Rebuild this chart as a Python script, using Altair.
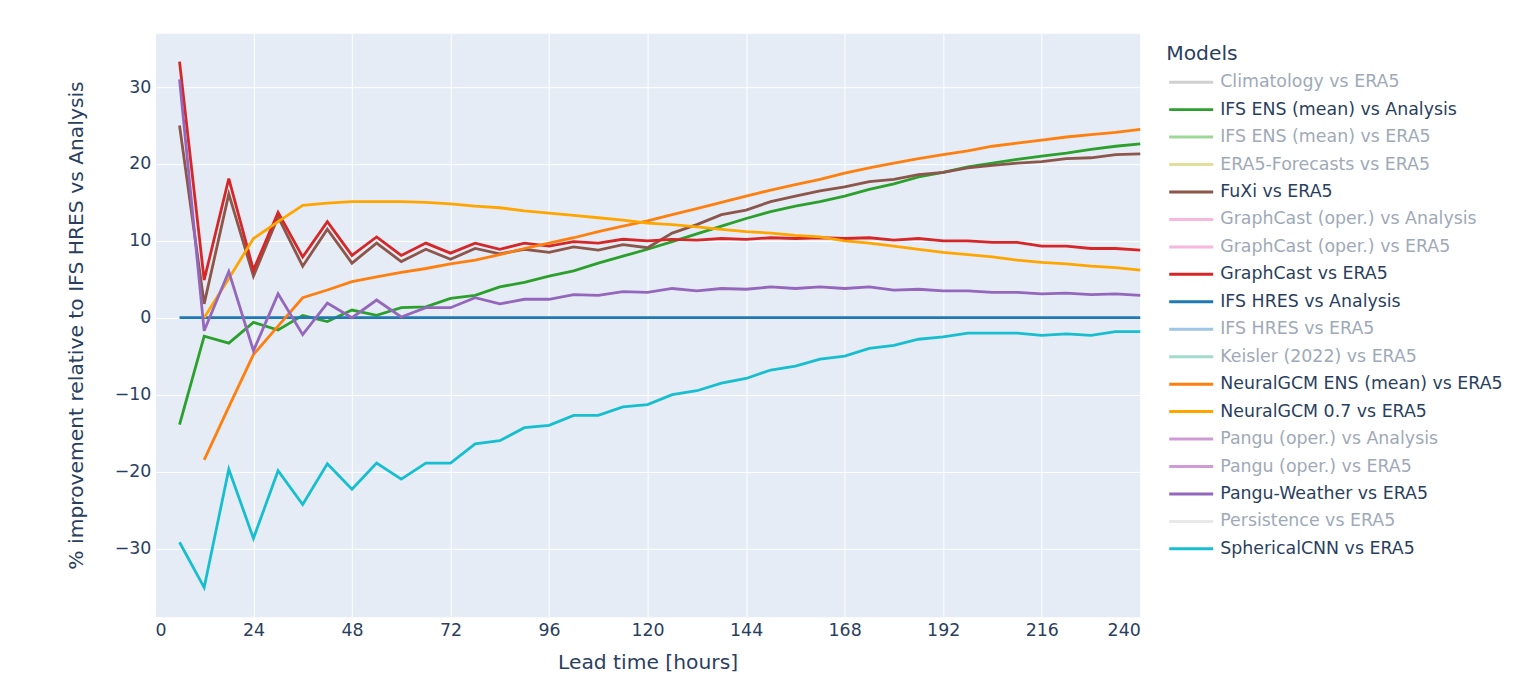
import altair as alt
import pandas as pd

hours = list(range(6, 241, 6))  # 6 .. 240

ifs_ens_analysis = [-13.9, -2.4, -3.3, -0.6, -1.6, 0.3, -0.5, 1.0, 0.3, 1.3,
                    1.4, 2.5, 2.9, 4.0, 4.6, 5.4, 6.1, 7.1, 8.0, 8.9,
                    9.9, 10.9, 11.9, 12.9, 13.8, 14.5, 15.1, 15.8, 16.7, 17.4,
                    18.3, 18.9, 19.6, 20.1, 20.6, 21.0, 21.4, 21.9, 22.3, 22.6]
fuxi = [25.0, 1.8, 16.1, 5.4, 13.1, 6.7, 11.5, 7.1, 9.7, 7.3,
        8.9, 7.6, 9.0, 8.3, 8.9, 8.5, 9.2, 8.8, 9.5, 9.1,
        11.0, 12.1, 13.4, 14.0, 15.1, 15.8, 16.5, 17.0, 17.7, 18.0,
        18.6, 18.9, 19.5, 19.8, 20.1, 20.3, 20.7, 20.8, 21.2, 21.3]
graphcast = [33.3, 4.9, 18.1, 6.2, 13.7, 7.9, 12.5, 8.1, 10.5, 8.1,
             9.7, 8.4, 9.7, 8.9, 9.7, 9.3, 9.9, 9.7, 10.2, 10.0,
             10.2, 10.1, 10.3, 10.2, 10.4, 10.3, 10.4, 10.3, 10.4, 10.1,
             10.3, 10.0, 10.0, 9.8, 9.8, 9.3, 9.3, 9.0, 9.0, 8.8]
ifs_hres_analysis = [0.0] * 40
# NeuralGCM series start at 12 h
neuralgcm_ens = [-18.5, -11.6, -4.8, -1.1, 2.6, 3.6, 4.7, 5.3, 5.9,
                 6.4, 7.0, 7.5, 8.2, 9.0, 9.7, 10.4, 11.2, 11.9, 12.6,
                 13.4, 14.2, 15.0, 15.8, 16.6, 17.3, 18.0, 18.8, 19.5, 20.1,
                 20.7, 21.2, 21.7, 22.3, 22.7, 23.1, 23.5, 23.8, 24.1, 24.5]
neuralgcm_07 = [0.0, 5.1, 10.3, 12.5, 14.6, 14.9, 15.1, 15.1, 15.1,
                15.0, 14.8, 14.5, 14.3, 13.9, 13.6, 13.3, 13.0, 12.7, 12.3,
                12.1, 11.8, 11.5, 11.2, 11.0, 10.7, 10.5, 10.0, 9.7, 9.3,
                8.9, 8.5, 8.2, 7.9, 7.5, 7.2, 7.0, 6.7, 6.5, 6.2]
pangu = [31.0, -1.7, 6.0, -4.3, 3.1, -2.2, 1.9, 0.0, 2.3, 0.1,
         1.3, 1.3, 2.6, 1.8, 2.4, 2.4, 3.0, 2.9, 3.4, 3.3,
         3.8, 3.5, 3.8, 3.7, 4.0, 3.8, 4.0, 3.8, 4.0, 3.6,
         3.7, 3.5, 3.5, 3.3, 3.3, 3.1, 3.2, 3.0, 3.1, 2.9]
spherical_cnn = [-29.2, -35.1, -19.7, -28.7, -19.9, -24.3, -19.0, -22.3, -18.9, -21.0,
                 -18.9, -18.9, -16.4, -16.0, -14.3, -14.0, -12.7, -12.7, -11.6, -11.3,
                 -10.0, -9.5, -8.5, -7.9, -6.8, -6.3, -5.4, -5.0, -4.0, -3.6,
                 -2.8, -2.5, -2.0, -2.0, -2.0, -2.3, -2.1, -2.3, -1.8, -1.8]

legend_models = [
    "Climatology vs ERA5", "IFS ENS (mean) vs Analysis", "IFS ENS (mean) vs ERA5",
    "ERA5-Forecasts vs ERA5", "FuXi vs ERA5", "GraphCast (oper.) vs Analysis",
    "GraphCast (oper.) vs ERA5", "GraphCast vs ERA5", "IFS HRES vs Analysis",
    "IFS HRES vs ERA5", "Keisler (2022) vs ERA5", "NeuralGCM ENS (mean) vs ERA5",
    "NeuralGCM 0.7 vs ERA5", "Pangu (oper.) vs Analysis", "Pangu (oper.) vs ERA5",
    "Pangu-Weather vs ERA5", "Persistence vs ERA5", "SphericalCNN vs ERA5",
]
legend_colors = [
    "#d0d0d0", "#2ca02c", "#9ed898", "#e2df9c", "#8c564b", "#f6b8dc",
    "#f6b8dc", "#d62728", "#1f77b4", "#9fc6e6", "#a2dccd", "#ff7f0e",
    "#ffa500", "#cf9bd6", "#cf9bd6", "#9467bd", "#e8e8e8", "#17becf",
]
legend_active = [False, True, False, False, True, False, False, True, True,
                 False, False, True, True, False, False, True, False, True]

series = [
    ("IFS ENS (mean) vs Analysis", hours, ifs_ens_analysis),
    ("FuXi vs ERA5", hours, fuxi),
    ("GraphCast vs ERA5", hours, graphcast),
    ("IFS HRES vs Analysis", hours, ifs_hres_analysis),
    ("NeuralGCM ENS (mean) vs ERA5", hours[1:], neuralgcm_ens),
    ("NeuralGCM 0.7 vs ERA5", hours[1:], neuralgcm_07),
    ("Pangu-Weather vs ERA5", hours, pangu),
    ("SphericalCNN vs ERA5", hours, spherical_cnn),
]
rows = []
for name, hs, vals in series:
    for h, v in zip(hs, vals):
        rows.append({"model": name, "hour": h, "value": v})
df = pd.DataFrame(rows)

active_models = [m for m, a in zip(legend_models, legend_active) if a]
active_colors = [c for c, a in zip(legend_colors, legend_active) if a]

TXT = "#2a3f5f"
FONT = "DejaVu Sans"

main = alt.Chart(df).mark_line(strokeWidth=2.8).encode(
    x=alt.X("hour:Q",
            scale=alt.Scale(domain=[0, 240], nice=False),
            axis=alt.Axis(values=list(range(0, 241, 24)), title="Lead time [hours]",
                          labelPadding=5, titlePadding=13)),
    y=alt.Y("value:Q",
            scale=alt.Scale(domain=[-38.9, 37.0], nice=False, zero=False),
            axis=alt.Axis(values=[-30, -20, -10, 0, 10, 20, 30],
                          title="% improvement relative to IFS HRES vs Analysis",
                          labelPadding=4, titlePadding=28)),
    color=alt.Color("model:N", scale=alt.Scale(domain=active_models, range=active_colors),
                    legend=None),
).properties(width=986, height=584,
             view=alt.ViewBackground(fill="#E5ECF6", stroke="transparent"))

leg_df = pd.DataFrame({"model": legend_models, "color": legend_colors,
                       "active": legend_active})
ybase = alt.Y("model:N",
              scale=alt.Scale(type="point", domain=legend_models, range=[49, 516], padding=0),
              axis=None)
sym = alt.Chart(leg_df).mark_rule(strokeWidth=3).encode(
    y=ybase, x=alt.value(11), x2=alt.value(55),
    color=alt.Color("color:N", scale=None),
)
lab = alt.Chart(leg_df).mark_text(align="left", baseline="middle", font=FONT, fontSize=17.4).encode(
    y=ybase, x=alt.value(62), text="model:N",
    color=alt.condition("datum.active", alt.value(TXT), alt.value("#a0a9b8")),
)
ttl = alt.Chart(pd.DataFrame({"t": ["Models"]})).mark_text(
    align="left", baseline="middle", font=FONT, fontSize=20.3, color=TXT
).encode(x=alt.value(8), y=alt.value(21), text="t:N")
legend = alt.layer(sym, lab, ttl).properties(
    width=350, height=584, view=alt.ViewBackground(fill="transparent", stroke="transparent"))

chart = alt.hconcat(main, legend, spacing=10).properties(
    padding={"left": 57, "top": 24, "right": 5, "bottom": 5},
    background="white",
).configure_view(stroke="transparent").configure_axis(
    labelFont=FONT, labelFontSize=17.4, labelColor=TXT,
    titleFont=FONT, titleFontSize=20.3, titleFontWeight="normal", titleColor=TXT,
    grid=True, gridColor="white", gridWidth=1, domain=False, ticks=False,
)

chart.save("out.html", embed_options={"renderer": "svg", "actions": False})
